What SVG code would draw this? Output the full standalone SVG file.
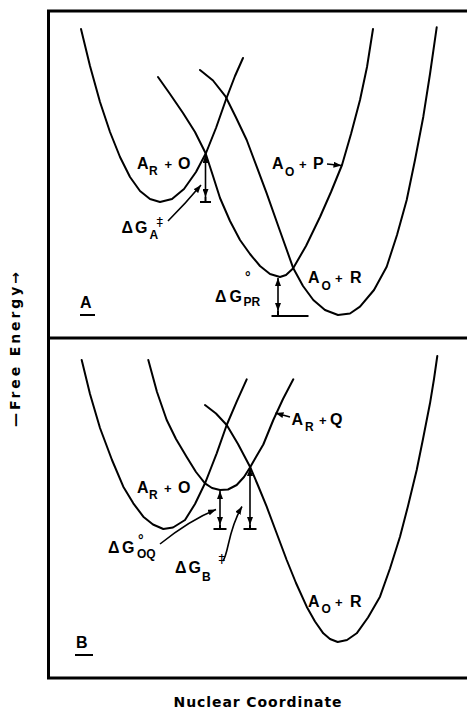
<svg xmlns="http://www.w3.org/2000/svg" width="467" height="709" viewBox="0 0 467 709">
<style>
.fr{fill:none;stroke:#000;stroke-width:3;stroke-linecap:square}
.cv{fill:none;stroke:#000;stroke-width:2;stroke-linejoin:round;stroke-linecap:round}
.ar{fill:none;stroke:#000;stroke-width:1.6}
.bar{fill:none;stroke:#000;stroke-width:2}
.t{font-family:"Liberation Sans","DejaVu Sans",sans-serif;font-weight:bold;font-size:16px;fill:#000}
.s{font-size:12px}
.p{font-size:13px}
.d{font-size:14px}
.dg{font-family:"DejaVu Sans","Liberation Sans",sans-serif;font-size:13px;fill:#000}
.ax{font-family:"DejaVu Sans","Liberation Sans",sans-serif;font-weight:bold;font-size:14px;fill:#000}
</style>
<defs>
<marker id="ah" viewBox="0 0 8 6" refX="8" refY="3" markerWidth="8" markerHeight="6" markerUnits="userSpaceOnUse" orient="auto-start-reverse"><path d="M0,0 L8,3 L0,6 z" fill="#000"/></marker>
</defs>
<rect width="467" height="709" fill="#fff"/>
<g id="frame">
<path class="fr" d="M466,11 H48.5 V678 H466 M48.5,338 H466"/>
</g>
<g id="panelA">
<path id="A-curve-ARO" class="cv" d="M81,29 L90,66 L100,102 L110,132 L120,157 L130,177 L140,191 L150,199 L160,202 L172,199 L184,189 L196,172 L206,153 L216,128 L226,99.5 L235,76 L243,58"/>
<path id="A-curve-AOP" class="cv" d="M158,77 L170,94 L183,113 L195,132 L205.5,153 L213,176 L220,198 L230,221 L240,240 L250,254 L260,266 L270,274 L280,277 L286,275 L293,268.5 L306,246 L320,217 L331,192 L342,165 L351,134 L360,100 L367,67 L373,29"/>
<path id="A-curve-AOR" class="cv" d="M200,70 L213,80.5 L225.7,96.7 L236,117.5 L246.7,140 L256.7,166.7 L266.7,193.3 L280,231 L293.3,268.3 L303,286 L313.3,300 L325,310 L338,315 L350,313.5 L360,306.7 L374,290 L386.7,266.7 L397,235 L406.7,200 L415,160 L423.3,116.7 L430,74 L436.7,27.3"/>
</g>
<g id="panelB">
<path id="B-curve-ARO" class="cv" d="M81.7,360 L90,394 L100,428 L112,460 L123.3,486.7 L133.3,503.3 L143.3,516.7 L153,524.5 L163.3,529 L173,527.5 L185,520 L195,504 L205,483.3 L211,468 L216.7,453.3 L226.7,425 L236.7,401.7 L246.7,379.3"/>
<path id="B-curve-ARQ" class="cv" d="M148.3,360 L157,392 L166.7,420 L176,439 L186.7,457 L196,472 L205,483.3 L212,488 L220,490 L228,489.5 L236.7,485 L244,477 L250,467.5 L256,457 L263.3,444.5 L273.3,420 L283,399 L293.3,379.3"/>
<path id="B-curve-AOR" class="cv" d="M205,405 L216,413.5 L226.7,425 L238,444 L250,466.7 L258,485.5 L266.7,506.7 L276,531.5 L286.7,560 L296,583 L306.7,606.7 L315,621.5 L323.3,633.3 L330,639 L337.7,642 L347,640 L356.7,633.3 L368,617.5 L380,596.7 L390,568.5 L400,536.7 L408,506 L416.7,470 L423,439 L430,403.3 L434,379 L437.3,356"/>
</g>
<g id="connectors">
<path class="ar" d="M205.5,155 V197" marker-start="url(#ah)" marker-end="url(#ah)"/>
<path class="bar" d="M205.5,197 V202 M200,202 H211"/>
<path class="ar" d="M168,221 Q186,203 201,185" marker-end="url(#ah)"/>
<path class="ar" d="M278,278 V311" marker-start="url(#ah)" marker-end="url(#ah)"/>
<path class="bar" d="M278,311 V316 M271.5,316 H308.5"/>
<path class="ar" d="M327,164 L341.5,165.5" marker-end="url(#ah)"/>
<path class="ar" d="M290,417 L275.5,413" marker-end="url(#ah)"/>
<path class="ar" d="M220,491 V525" marker-start="url(#ah)" marker-end="url(#ah)"/>
<path class="bar" d="M220,525 V529 M213.5,529 H226.5"/>
<path class="ar" d="M250,468 V525" marker-start="url(#ah)" marker-end="url(#ah)"/>
<path class="bar" d="M250,525 V529 M243.5,529 H256.5"/>
<path class="ar" d="M160,544 Q190,520 216,509.5" marker-end="url(#ah)"/>
<path class="ar" d="M223,561 C229,552 228,530 242,506.5" marker-end="url(#ah)"/>
</g>
<g id="labelsA">
<text id="A-ARO" class="t"><tspan x="137" y="169">A</tspan><tspan class="s" x="149" y="175">R</tspan><tspan class="p" x="164.5" y="169">+</tspan><tspan x="178" y="169">O</tspan></text>
<text id="A-AOP" class="t"><tspan x="272" y="169">A</tspan><tspan class="s" x="285" y="176">O</tspan><tspan class="p" x="299" y="169">+</tspan><tspan x="313" y="169">P</tspan></text>
<text id="A-AOR" class="t"><tspan x="308" y="283">A</tspan><tspan class="s" x="321.5" y="290">O</tspan><tspan class="p" x="335" y="283">+</tspan><tspan x="350" y="283">R</tspan></text>
<text id="A-dGA" class="t"><tspan x="121.5" y="233">Δ</tspan><tspan x="135" y="233">G</tspan><tspan class="s" x="149.5" y="239">A</tspan></text>
<text class="dg" x="156.5" y="226">‡</text>
<text id="A-dGPR" class="t"><tspan x="215" y="302">Δ</tspan><tspan x="229.5" y="302">G</tspan><tspan class="d" x="245" y="282">°</tspan><tspan class="s" x="243.5" y="306">PR</tspan></text>
<text id="A-tag" class="t" x="80" y="308">A</text>
<path class="bar" d="M80,315 H95"/>
</g>
<g id="labelsB">
<text id="B-ARQ" class="t"><tspan x="291.5" y="425">A</tspan><tspan class="s" x="305" y="431">R</tspan><tspan class="p" x="319" y="425">+</tspan><tspan x="330" y="425">Q</tspan></text>
<text id="B-ARO" class="t"><tspan x="137" y="493">A</tspan><tspan class="s" x="149" y="499">R</tspan><tspan class="p" x="164" y="493">+</tspan><tspan x="178" y="493">O</tspan></text>
<text id="B-dGOQ" class="t"><tspan x="108" y="553">Δ</tspan><tspan x="122" y="553">G</tspan><tspan class="d" x="138" y="545">°</tspan><tspan class="s" x="137" y="558">OQ</tspan></text>
<text id="B-dGB" class="t"><tspan x="175" y="573">Δ</tspan><tspan x="188.5" y="573">G</tspan><tspan class="s" x="202" y="581">B</tspan></text>
<text class="dg" x="218.5" y="563">‡</text>
<text id="B-AOR" class="t"><tspan x="308" y="606.5">A</tspan><tspan class="s" x="321.5" y="613">O</tspan><tspan class="p" x="335" y="606.5">+</tspan><tspan x="350" y="606.5">R</tspan></text>
<text id="B-tag" class="t" x="76" y="648">B</text>
<path class="bar" d="M75,655 H93"/>
</g>
<g id="axes">
<text class="ax" transform="translate(19.5,349.5) rotate(-90)" text-anchor="middle" textLength="155" lengthAdjust="spacing">—Free Energy→</text>
<text class="ax" x="257.5" y="707" text-anchor="middle" textLength="168" lengthAdjust="spacing">Nuclear Coordinate</text>
</g>
</svg>
